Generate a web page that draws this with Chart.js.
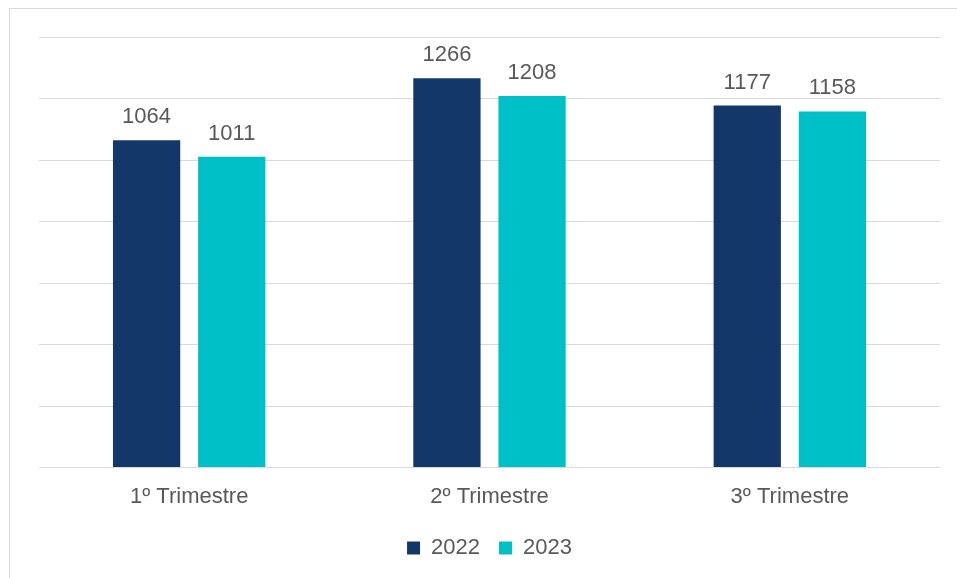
<!DOCTYPE html>
<html>
<head>
<meta charset="utf-8">
<script src="https://cdn.jsdelivr.net/npm/chart.js@4"></script>
<style>
  html, body { margin: 0; padding: 0; background: #ffffff; }
  #wrap { position: relative; width: 957px; height: 578px; overflow: hidden; }
  #frame { position: absolute; left: 9px; top: 8px; right: -2px; bottom: -2px; border-top: 1px solid #D9D9D9; border-left: 1px solid #D9D9D9; pointer-events: none; }
  canvas { position: absolute; left: 0; top: 0; }
</style>
</head>
<body>
<div id="wrap">
  <canvas id="c" width="957" height="578"></canvas>
  <div id="frame"></div>
</div>
<script>
const categories = ["1º Trimestre", "2º Trimestre", "3º Trimestre"];
const seriesNames = ["2022", "2023"];
const values2022 = [1064, 1266, 1177];
const values2023 = [1011, 1208, 1158];
const yMax = 1400;
const yStep = 200;

const textColor = "#595959";
const fontFamily = "'Liberation Sans', Arial, sans-serif";

const valueLabels = {
  id: "valueLabels",
  afterDatasetsDraw(chart) {
    const ctx = chart.ctx;
    ctx.save();
    ctx.font = "22px " + fontFamily;
    ctx.fillStyle = textColor;
    ctx.textAlign = "center";
    ctx.textBaseline = "alphabetic";
    chart.data.datasets.forEach((ds, di) => {
      const meta = chart.getDatasetMeta(di);
      meta.data.forEach((bar, i) => {
        ctx.fillText(String(ds.data[i]), bar.x, bar.y - 17);
      });
    });
    ctx.restore();
  }
};

new Chart(document.getElementById("c"), {
  type: "bar",
  data: {
    labels: categories,
    datasets: [
      { label: seriesNames[0], data: values2022, backgroundColor: "#14376A", borderWidth: 0 },
      { label: seriesNames[1], data: values2023, backgroundColor: "#00C0C7", borderWidth: 0 }
    ]
  },
  options: {
    responsive: false,
    animation: false,
    devicePixelRatio: 1,
    layout: { padding: { top: 37, left: 39, right: 17, bottom: 9 } },
    datasets: { bar: { categoryPercentage: 0.567, barPercentage: 0.79 } },
    scales: {
      x: {
        grid: { display: false },
        border: { display: false },
        ticks: { color: textColor, font: { family: fontFamily, size: 22 }, padding: 8 }
      },
      y: {
        min: 0, max: yMax,
        ticks: { display: false, stepSize: yStep },
        grid: { color: "#D9D9D9", lineWidth: 1, drawTicks: false },
        border: { display: false }
      }
    },
    plugins: {
      legend: {
        position: "bottom",
        labels: { color: textColor, font: { family: fontFamily, size: 22 }, boxWidth: 13, boxHeight: 13, padding: 19 }
      },
      tooltip: { enabled: false }
    }
  },
  plugins: [valueLabels]
});
</script>
</body>
</html>
